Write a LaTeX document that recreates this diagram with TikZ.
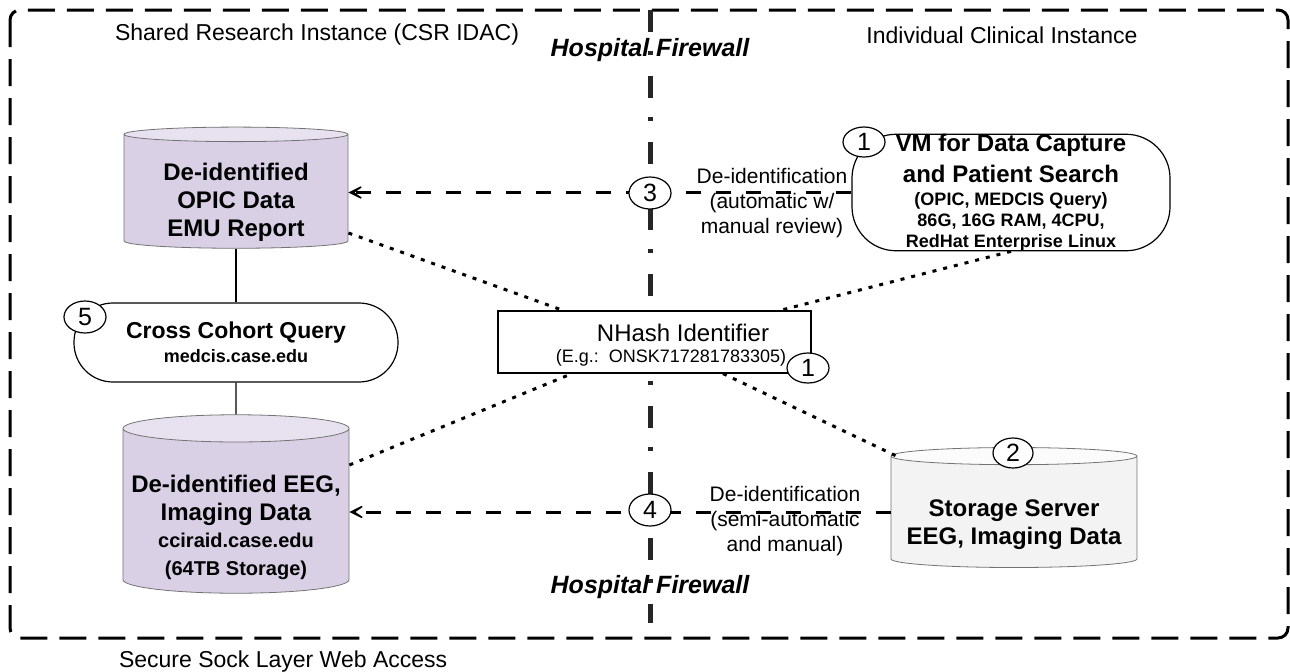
\documentclass[tikz,border=0pt]{standalone}
\usepackage{fontspec}
\setmainfont{Liberation Sans}
\usetikzlibrary{shapes.geometric,arrows.meta}

\definecolor{lavbody}{HTML}{DAD0E6}
\definecolor{lavtop}{HTML}{E8E2F0}
\definecolor{srvbody}{HTML}{F3F3F3}
\definecolor{srvtop}{HTML}{FBFBFB}

\newcommand{\ptsize}[2]{\fontsize{#1}{#2}\selectfont}

\begin{document}
\begin{tikzpicture}[
  x=0.5pt, y=-0.5pt,
  head/.style={font=\ptsize{11.5}{14}},
  fwall/.style={font=\bfseries\itshape\ptsize{12.5}{15}},
  store/.style={cylinder, shape border rotate=90, draw=black!55, line width=0.4pt,
    cylinder uses custom fill, cylinder body fill=lavbody, cylinder end fill=lavtop,
    align=center, inner sep=0pt, font=\bfseries\ptsize{12}{14}},
  pill/.style={rectangle, draw, line width=0.6pt, fill=white, align=center, inner sep=0pt},
  tag/.style={ellipse, draw, fill=white, line width=0.6pt, inner sep=0pt,
    minimum width=21pt, minimum height=16pt, font=\ptsize{12.5}{12.5}},
  note/.style={align=center, font=\ptsize{10.5}{12.5}},
  deid/.style={line width=1.5pt, dash pattern=on 7.5pt off 7.5pt,
    -{Stealth[length=11pt, width=11pt, inset=8pt]}},
  dotline/.style={line width=1.5pt, dash pattern=on 2pt off 3.5pt},
  link/.style={line width=0.6pt}
]
\useasboundingbox (0,0) rectangle (1290,671);

% outer frame
\draw[line width=1.5pt, dash pattern=on 13.5pt off 6pt, rounded corners=5pt] (10,10) rectangle (1288,638);

% firewall
\coordinate (fwtop) at (650,10);
\coordinate (fwbot) at (650,623);
\draw[line width=2.5pt, dash pattern=on 11pt off 9.5pt on 2pt off 10.5pt, black!85] (fwtop) -- (fwbot);

% headings
\node[head] (shared) at (317,35) {Shared Research Instance (CSR IDAC)};
\node[head] (indiv) at (1002,35) {Individual Clinical Instance};
\node[fwall] (fwup) at (650,50) {Hospital Firewall};
\node[fwall] (fwdown) at (650,587) {Hospital Firewall};
\node[head, anchor=west] (ssl) at (112,662) {Secure Sock Layer Web Access};

% data stores
\node[store, minimum width=112pt, minimum height=56.5pt, aspect=0.1] (opic) at (236,191.5)
  {\rule{0pt}{19pt}De-identified\\OPIC Data\\EMU Report};
\node[store, minimum width=113pt, minimum height=76pt, aspect=0.13] (eeg) at (236,511)
  {\rule{0pt}{25pt}De-identified EEG,\\Imaging Data\\[-0.5pt]{\ptsize{10}{14}cciraid.case.edu}\\{\ptsize{10}{14}(64TB Storage)}};
\node[store, cylinder body fill=srvbody, cylinder end fill=srvtop, minimum width=123pt,
  minimum height=60pt, aspect=0.08] (server) at (1014,512)
  {\rule{0pt}{21pt}Storage Server\\EEG, Imaging Data};

% query and capture
\node[pill, rounded corners=19.5pt, minimum width=162pt, minimum height=39.5pt,
  font=\bfseries\ptsize{9}{12}] (cross) at (236,342.5)
  {{\ptsize{11.5}{14}Cross Cohort Query}\\medcis.case.edu};
\node[pill, rounded corners=22pt, minimum width=159pt, minimum height=57.5pt,
  font=\bfseries\ptsize{9}{10.5}] (vm) at (1011,192.5)
  {{\ptsize{12}{14}VM for Data Capture}\\[3pt]{\ptsize{12}{14}and Patient Search}\\[1pt]
   (OPIC, MEDCIS Query)\\86G, 16G RAM, 4CPU,\\RedHat Enterprise Linux};

% identifier
\node[draw, line width=0.6pt, fill=white, minimum width=156.5pt, minimum height=31pt] (nhash) at (654.5,342) {};
\node[font=\ptsize{12}{12}] (nhashname) at (683,333) {NHash Identifier};
\node[font=\ptsize{9}{9}] (nhashex) at (671,358) {(E.g.:\ \ ONSK717281783305)};

% connectors
\draw[link] (opic.south) -- (cross.north);
\draw[link] (cross.south) -- (eeg.north);
\draw[deid] (vm.west) -- (vm.west -| opic.east);
\draw[deid] (server.west) -- (server.west -| eeg.east);
\draw[dotline] ([yshift=-20.75pt]opic.east) -- ([xshift=-45.75pt]nhash.north);
\draw[dotline] (vm.south) -- ([xshift=62.75pt]nhash.north);
\draw[dotline] ([yshift=23pt]eeg.east) -- ([xshift=-41.25pt]nhash.south);
\draw[dotline] ([xshift=34.25pt]nhash.south) -- ([xshift=5pt,yshift=27pt]server.west);

\node[note] (note3) at (772,203) {De-identification\\(automatic w/\\manual review)};
\node[note] (note4) at (785,521.5) {De-identification\\(semi-automatic\\and manual)};

% step numbers
\node[tag] (t5) at (85,317) {5};
\node[tag] (t3) at (650,193) {3};
\node[tag, minimum height=15pt] (t1a) at (864,142) {1};
\node[tag, minimum height=15pt] (t1b) at (808,368) {1};
\node[tag, minimum width=20pt, minimum height=15pt] (t2) at (1013,453) {2};
\node[tag] (t4) at (650,510) {4};
\end{tikzpicture}
\end{document}
